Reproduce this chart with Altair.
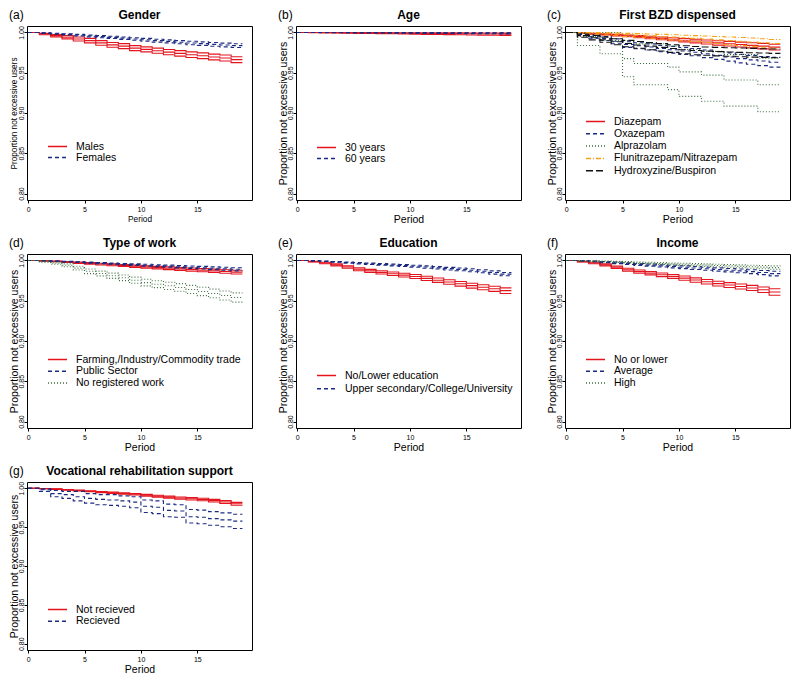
import altair as alt
import pandas as pd

FONT = "Liberation Sans"
periods = list(range(20))
x_ticks = [0, 5, 10, 15]
y_ticks = [0.80, 0.85, 0.90, 0.95, 1.00]

# colours / dash styles
RED, BLUE, GREEN, ORANGE, BLACK = "#e3141e", "#1a2a80", "#3d6e3d", "#f4a21a", "#111111"
SOLID, DASH, DOT, DOTDASH, LONGDASH = [1, 0], [4, 3], [1, 2], [5, 2, 1, 2], [7, 3]

# (a) Gender
a_groups = ["Males", "Females"]
a_males_est = [1.0, .9980, .9960, .9940, .9919, .9898, .9870, .9846, .9830, .9805, .9790, .9773, .9756, .9740, .9724, .9711, .9695, .9683, .9662]
a_males_hi = [1.0, .9988, .9975, .9960, .9944, .9926, .9899, .9876, .9861, .9836, .9821, .9805, .9789, .9774, .9759, .9747, .9731, .9720, .9699]
a_males_lo = [1.0, .9972, .9945, .9920, .9894, .9870, .9841, .9816, .9799, .9774, .9759, .9741, .9723, .9706, .9689, .9675, .9659, .9646, .9625]
a_fem_est = [1.0, .9992, .9984, .9976, .9966, .9957, .9948, .9939, .9929, .9919, .9909, .9898, .9889, .9879, .9869, .9861, .9852, .9844, .9836]
a_fem_hi = [1.0, .9996, .9990, .9984, .9976, .9969, .9961, .9953, .9944, .9935, .9926, .9916, .9908, .9899, .9890, .9883, .9875, .9867, .9859]
a_fem_lo = [1.0, .9988, .9978, .9968, .9956, .9945, .9935, .9925, .9914, .9903, .9892, .9880, .9870, .9859, .9848, .9839, .9829, .9821, .9813]

# (b) Age
b_groups = ["30 years", "60 years"]
b_30_est = [1.0, .9999, .9998, .9997, .9996, .9994, .9993, .9992, .9991, .9990, .9988, .9987, .9986, .9985, .9984, .9983, .9981, .9980, .9979]
b_30_hi = [1.0, 1.0, .9999, .9999, .9999, .9998, .9998, .9998, .9997, .9997, .9996, .9996, .9995, .9995, .9995, .9994, .9993, .9993, .9992]
b_30_lo = [1.0, .9997, .9996, .9994, .9992, .9989, .9987, .9985, .9983, .9981, .9978, .9976, .9975, .9973, .9971, .9969, .9966, .9965, .9963]
b_60_est = [1.0, 1.0, .9999, .9999, .9998, .9998, .9997, .9997, .9996, .9996, .9995, .9995, .9994, .9994, .9993, .9993, .9992, .9992, .9991]
b_60_hi = [1.0, 1.0, 1.0, 1.0, 1.0, .9999, .9999, .9999, .9999, .9998, .9998, .9998, .9998, .9997, .9997, .9997, .9997, .9996, .9996]
b_60_lo = [1.0, .9999, .9998, .9997, .9996, .9995, .9994, .9993, .9992, .9991, .9990, .9989, .9988, .9987, .9986, .9985, .9984, .9983, .9982]

# (c) First BZD dispensed
c_groups = ["Diazepam", "Oxazepam", "Alprazolam", "Flunitrazepam/Nitrazepam", "Hydroxyzine/Buspiron"]
c_diaz_est = [1.0, .9992, .9984, .9975, .9967, .9958, .9948, .9937, .9926, .9915, .9904, .9893, .9882, .9870, .9860, .9850, .9840, .9830, .9818]
c_diaz_hi = [1.0, .9995, .9989, .9982, .9976, .9969, .9961, .9952, .9943, .9934, .9925, .9916, .9907, .9897, .9889, .9880, .9872, .9864, .9854]
c_diaz_lo = [1.0, .9989, .9979, .9968, .9958, .9947, .9935, .9922, .9909, .9896, .9883, .9870, .9857, .9843, .9831, .9820, .9808, .9796, .9782]
c_oxa_est = [1.0, .9975, .9950, .9925, .9890, .9850, .9835, .9820, .9800, .9785, .9770, .9755, .9735, .9715, .9695, .9675, .9660, .9645, .9630]
c_oxa_hi = [1.0, .9988, .9970, .9950, .9920, .9885, .9872, .9858, .9840, .9827, .9814, .9800, .9782, .9764, .9746, .9728, .9715, .9702, .9690]
c_oxa_lo = [1.0, .9962, .9930, .9900, .9860, .9815, .9798, .9782, .9760, .9743, .9726, .9710, .9688, .9666, .9644, .9622, .9605, .9588, .9570]
c_alp_est = [1.0, .9950, .9950, .9900, .9900, .9675, .9614, .9614, .9614, .9570, .9510, .9510, .9470, .9470, .9410, .9410, .9410, .9350, .9350]
c_alp_hi = [1.0, 1.0, 1.0, 1.0, 1.0, .9900, .9860, .9860, .9860, .9830, .9790, .9790, .9765, .9765, .9725, .9725, .9725, .9680, .9680]
c_alp_lo = [1.0, .9838, .9838, .9735, .9735, .9450, .9350, .9350, .9350, .9290, .9207, .9207, .9146, .9146, .9085, .9085, .9085, .9016, .9016]
c_flu_est = [1.0, .9996, .9990, .9984, .9978, .9972, .9965, .9958, .9950, .9942, .9934, .9926, .9918, .9908, .9898, .9890, .9881, .9872, .9862]
c_flu_hi = [1.0, 1.0, .9998, .9995, .9992, .9989, .9985, .9981, .9976, .9971, .9966, .9961, .9956, .9950, .9944, .9938, .9931, .9922, .9912]
c_flu_lo = [1.0, .9988, .9978, .9968, .9959, .9950, .9940, .9930, .9919, .9908, .9897, .9886, .9875, .9862, .9849, .9838, .9827, .9816, .9804]
c_hyd_est = [1.0, .9960, .9935, .9910, .9885, .9862, .9845, .9830, .9815, .9800, .9785, .9775, .9768, .9762, .9757, .9752, .9748, .9744, .9740]
c_hyd_hi = [1.0, .9980, .9962, .9942, .9922, .9902, .9887, .9874, .9861, .9848, .9835, .9826, .9820, .9815, .9810, .9806, .9802, .9798, .9794]
c_hyd_lo = [1.0, .9940, .9908, .9878, .9848, .9822, .9803, .9786, .9769, .9752, .9735, .9724, .9716, .9709, .9704, .9698, .9694, .9690, .9686]

# (d) Type of work
d_groups = ["Farming,/Industry/Commodity trade", "Public Sector", "No registered work"]
d_farm_est = [1.0, .9995, .9988, .9980, .9972, .9964, .9955, .9946, .9937, .9928, .9920, .9911, .9903, .9895, .9887, .9879, .9871, .9863, .9855]
d_farm_hi = [1.0, .9997, .9992, .9986, .9980, .9974, .9966, .9958, .9950, .9942, .9935, .9927, .9920, .9913, .9906, .9899, .9892, .9885, .9878]
d_farm_lo = [1.0, .9993, .9984, .9974, .9964, .9954, .9944, .9934, .9924, .9914, .9905, .9895, .9886, .9877, .9868, .9859, .9850, .9841, .9832]
d_pub_est = [1.0, .9996, .9991, .9985, .9979, .9973, .9967, .9960, .9954, .9948, .9941, .9935, .9929, .9922, .9916, .9910, .9903, .9897, .9890]
d_pub_hi = [1.0, .9997, .9994, .9989, .9984, .9979, .9974, .9968, .9963, .9958, .9952, .9947, .9942, .9936, .9931, .9926, .9920, .9915, .9910]
d_pub_lo = [1.0, .9995, .9988, .9981, .9974, .9967, .9960, .9952, .9945, .9938, .9930, .9923, .9916, .9908, .9901, .9894, .9886, .9879, .9870]
d_nrw_est = [1.0, .9985, .9965, .9940, .9905, .9865, .9838, .9810, .9785, .9755, .9725, .9705, .9685, .9665, .9640, .9615, .9590, .9565, .9540]
d_nrw_hi = [1.0, .9992, .9978, .9958, .9928, .9893, .9868, .9843, .9820, .9793, .9766, .9748, .9730, .9712, .9690, .9667, .9644, .9621, .9598]
d_nrw_lo = [1.0, .9978, .9952, .9922, .9882, .9837, .9808, .9777, .9750, .9717, .9684, .9662, .9640, .9618, .9590, .9563, .9536, .9509, .9482]

# (e) Education
e_groups = ["No/Lower education", "Upper secondary/College/University"]
e_low_est = [1.0, .9985, .9968, .9945, .9918, .9890, .9870, .9852, .9835, .9818, .9800, .9777, .9755, .9733, .9710, .9687, .9667, .9648, .9625]
e_low_hi = [1.0, .9990, .9977, .9957, .9933, .9908, .9889, .9873, .9857, .9841, .9825, .9803, .9782, .9761, .9739, .9717, .9698, .9680, .9660]
e_low_lo = [1.0, .9980, .9959, .9933, .9903, .9872, .9851, .9831, .9813, .9795, .9775, .9751, .9728, .9705, .9681, .9657, .9636, .9616, .9590]
e_up_est = [1.0, .9996, .9990, .9982, .9974, .9966, .9958, .9950, .9943, .9936, .9928, .9918, .9908, .9898, .9889, .9878, .9866, .9850, .9830]
e_up_hi = [1.0, .9998, .9994, .9987, .9981, .9974, .9967, .9960, .9954, .9948, .9941, .9932, .9923, .9914, .9906, .9896, .9885, .9870, .9850]
e_up_lo = [1.0, .9994, .9986, .9977, .9967, .9958, .9949, .9940, .9932, .9924, .9915, .9904, .9893, .9882, .9872, .9860, .9847, .9830, .9810]

# (f) Income
f_groups = ["No or lower", "Average", "High"]
f_low_est = [1.0, .9985, .9968, .9945, .9915, .9885, .9862, .9842, .9822, .9802, .9780, .9757, .9735, .9712, .9695, .9677, .9658, .9637, .9608]
f_low_hi = [1.0, .9990, .9977, .9957, .9930, .9903, .9882, .9863, .9845, .9826, .9806, .9784, .9763, .9741, .9725, .9708, .9690, .9671, .9648]
f_low_lo = [1.0, .9980, .9959, .9933, .9900, .9867, .9842, .9821, .9799, .9778, .9754, .9730, .9707, .9683, .9665, .9646, .9626, .9603, .9568]
f_avg_est = [1.0, .9995, .9988, .9980, .9970, .9960, .9951, .9942, .9933, .9924, .9915, .9906, .9897, .9888, .9879, .9870, .9861, .9850, .9837]
f_avg_hi = [1.0, .9997, .9993, .9987, .9979, .9971, .9963, .9955, .9947, .9940, .9932, .9924, .9916, .9908, .9900, .9893, .9885, .9876, .9865]
f_avg_lo = [1.0, .9993, .9983, .9973, .9961, .9949, .9939, .9929, .9919, .9908, .9898, .9888, .9878, .9868, .9858, .9847, .9837, .9824, .9809]
f_high_est = [1.0, .9997, .9992, .9987, .9982, .9977, .9972, .9967, .9962, .9957, .9952, .9947, .9942, .9937, .9932, .9927, .9922, .9917, .9911]
f_high_hi = [1.0, .9999, .9996, .9993, .9989, .9985, .9981, .9977, .9973, .9969, .9965, .9961, .9957, .9953, .9949, .9945, .9941, .9937, .9932]
f_high_lo = [1.0, .9995, .9988, .9981, .9975, .9969, .9963, .9957, .9951, .9945, .9939, .9933, .9927, .9921, .9915, .9909, .9903, .9897, .9890]

# (g) Vocational rehabilitation support
g_groups = ["Not recieved", "Recieved"]
g_not_est = [1.0, .9995, .9988, .9980, .9970, .9960, .9951, .9942, .9933, .9922, .9910, .9898, .9886, .9874, .9864, .9855, .9840, .9822, .9800]
g_not_hi = [1.0, .9997, .9991, .9984, .9975, .9966, .9958, .9950, .9942, .9932, .9921, .9910, .9899, .9888, .9879, .9871, .9857, .9840, .9818]
g_not_lo = [1.0, .9993, .9985, .9976, .9965, .9954, .9944, .9934, .9924, .9912, .9899, .9886, .9873, .9860, .9849, .9839, .9823, .9804, .9782]
g_rec_est = [1.0, .9980, .9930, .9918, .9890, .9870, .9857, .9849, .9837, .9821, .9768, .9756, .9715, .9707, .9634, .9626, .9609, .9593, .9577]
g_rec_hi = [1.0, .9992, .9971, .9959, .9959, .9930, .9918, .9918, .9902, .9890, .9849, .9837, .9796, .9788, .9727, .9719, .9699, .9683, .9666]
g_rec_lo = [1.0, .9959, .9890, .9870, .9837, .9809, .9788, .9780, .9768, .9748, .9687, .9674, .9634, .9626, .9552, .9544, .9524, .9504, .9483]

W = 225
Y_TITLE = "Proportion not excessive users"


def panel(letter, title, groups, series, colors, dashes, lx, ly, row_pad, h,
          ytitle_size=10.5, xtitle_size=10.5, leg_size=10.5, ytitle_pad=-2):
    rows = []
    for g, (est, lo, hi) in zip(groups, series):
        for kind, vals in (("est", est), ("lo", lo), ("hi", hi)):
            vv = list(vals) + [vals[-1]]
            for p, v in zip(periods, vv):
                rows.append({"period": p, "value": v, "group": g, "line": g + "|" + kind})
    df = pd.DataFrame(rows)
    leg = alt.Legend(title=None, orient="none", legendX=lx, legendY=ly, direction="vertical",
                     symbolType="stroke", symbolSize=361, symbolStrokeWidth=1.5,
                     clipHeight=11, rowPadding=row_pad, labelOffset=8, labelFont=FONT,
                     labelFontSize=leg_size, labelColor="black", labelLimit=400, padding=0)
    lines = alt.Chart(df).mark_line(interpolate="step-after", strokeWidth=1.1).encode(
        x=alt.X("period:Q", scale=alt.Scale(domain=[-0.1, 19.85], nice=False, zero=False),
                axis=alt.Axis(values=x_ticks, title="Period", titleFontSize=xtitle_size,
                              labelFlush=False, titlePadding=2)),
        y=alt.Y("value:Q", scale=alt.Scale(domain=[0.792, 1.008], nice=False, zero=False),
                axis=alt.Axis(values=y_ticks, format=".2f", title=Y_TITLE,
                              titleFontSize=ytitle_size, labelAngle=270, labelAlign="center",
                              labelBaseline="bottom", labelPadding=0, titlePadding=ytitle_pad)),
        color=alt.Color("group:N", scale=alt.Scale(domain=groups, range=colors), legend=leg),
        strokeDash=alt.StrokeDash("group:N", scale=alt.Scale(domain=groups, range=dashes), legend=leg),
        detail="line:N",
    )
    tag = alt.Chart(pd.DataFrame({"t": ["(" + letter + ")"]})).mark_text(
        align="left", baseline="top", fontSize=12, font=FONT, color="black"
    ).encode(text="t:N", x=alt.value(-18), y=alt.value(-16))
    head = alt.Chart(pd.DataFrame({"t": [title]})).mark_text(
        align="center", baseline="top", fontSize=12, fontWeight="bold", font=FONT, color="black"
    ).encode(text="t:N", x=alt.value(W / 2), y=alt.value(-16))
    return alt.layer(lines, tag, head).properties(width=W, height=h)


H = 174
pa = panel("a", "Gender", a_groups,
           [(a_males_est, a_males_lo, a_males_hi), (a_fem_est, a_fem_lo, a_fem_hi)],
           [RED, BLUE], [SOLID, DASH], 20, 115, 0, H, ytitle_size=8.2, xtitle_size=8.3,
           ytitle_pad=-1)
pb = panel("b", "Age", b_groups,
           [(b_30_est, b_30_lo, b_30_hi), (b_60_est, b_60_lo, b_60_hi)],
           [RED, BLUE], [SOLID, DASH], 20, 116, 0, H)
pc = panel("c", "First BZD dispensed", c_groups,
           [(c_diaz_est, c_diaz_lo, c_diaz_hi), (c_oxa_est, c_oxa_lo, c_oxa_hi),
            (c_alp_est, c_alp_lo, c_alp_hi), (c_flu_est, c_flu_lo, c_flu_hi),
            (c_hyd_est, c_hyd_lo, c_hyd_hi)],
           [RED, BLUE, GREEN, ORANGE, BLACK], [SOLID, DASH, DOT, DOTDASH, LONGDASH],
           20, 90, 1.3, H)
pd_ = panel("d", "Type of work", d_groups,
            [(d_farm_est, d_farm_lo, d_farm_hi), (d_pub_est, d_pub_lo, d_pub_hi),
             (d_nrw_est, d_nrw_lo, d_nrw_hi)],
            [RED, BLUE, GREEN], [SOLID, DASH, DOT], 20, 100, 0.8, H)
pe = panel("e", "Education", e_groups,
           [(e_low_est, e_low_lo, e_low_hi), (e_up_est, e_up_lo, e_up_hi)],
           [RED, BLUE], [SOLID, DASH], 20, 116, 2.3, H)
pf = panel("f", "Income", f_groups,
           [(f_low_est, f_low_lo, f_low_hi), (f_avg_est, f_avg_lo, f_avg_hi),
            (f_high_est, f_high_lo, f_high_hi)],
           [RED, BLUE, GREEN], [SOLID, DASH, DOT], 20, 100, 0.8, H)
pg = panel("g", "Vocational rehabilitation support", g_groups,
           [(g_not_est, g_not_lo, g_not_hi), (g_rec_est, g_rec_lo, g_rec_hi)],
           [RED, BLUE], [SOLID, DASH], 20, 122, 0.8, 168)

chart = alt.concat(
    pa, pb, pc, pd_, pe, pf, pg, columns=3,
    spacing={"row": 54, "column": 44}, bounds="flush",
).resolve_scale(
    x="independent", y="independent", color="independent", strokeDash="independent"
).properties(padding=0).configure_view(
    stroke="black", strokeWidth=1
).configure_axis(
    labelFont=FONT, titleFont=FONT, labelFontSize=7, labelColor="black", titleColor="black",
    titleFontWeight="normal", tickColor="black", tickSize=3,
    grid=False, domain=False,
)

chart.save("out.html", embed_options={"renderer": "svg", "actions": False})
